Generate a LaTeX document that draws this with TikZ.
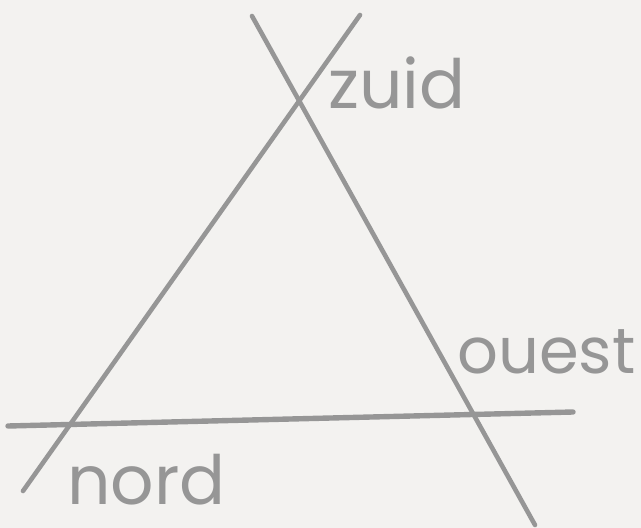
\documentclass[tikz,border=0pt]{standalone}
\usepackage{fontspec}
\setsansfont{Poppins}
\usetikzlibrary{positioning}
\definecolor{paperbg}{RGB}{243,242,240}
\definecolor{pencil}{RGB}{150,150,150}

\begin{document}
\begin{tikzpicture}[x=1pt, y=-1pt,
  stroke/.style={draw=pencil, line width=4.6pt, line cap=round},
  windlabel/.style={text=pencil, anchor=base west, inner sep=0pt, font=\sffamily}
]
\fill[paperbg] (0,0) rectangle (641,528);
\useasboundingbox (0,0) rectangle (641,528);
\coordinate (lefttop)   at (360,15);
\coordinate (leftend)   at (23,491);
\coordinate (righttop)  at (252,16);
\coordinate (rightend)  at (535,525);
\coordinate (basestart) at (8,426);
\coordinate (baseend)   at (573,412);
\draw[stroke] (lefttop) -- (leftend);
\draw[stroke] (righttop) -- (rightend);
\draw[stroke, line width=5.4pt] (basestart) -- (baseend);
\node[windlabel, font=\sffamily\fontsize{68}{68}\selectfont] (zuid)  at (328,108) {zuid};
\node[windlabel, font=\sffamily\fontsize{64}{64}\selectfont] (ouest) at (457,373) {ouest};
\node[windlabel, font=\sffamily\fontsize{68}{68}\selectfont] (nord)  at (67,504)  {nord};
\end{tikzpicture}
\end{document}
